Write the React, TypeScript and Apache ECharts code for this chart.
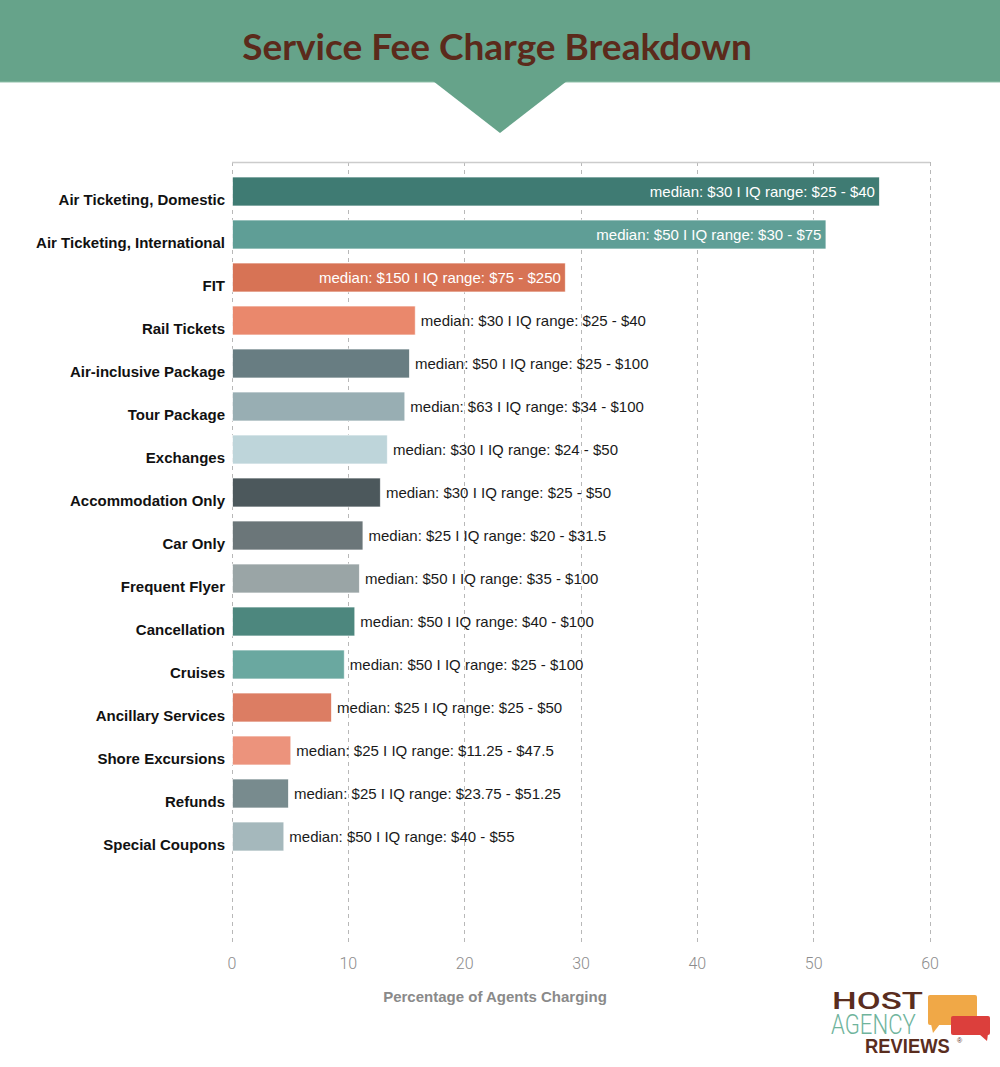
import React, { useEffect, useRef } from "react";
import * as echarts from "echarts";

const categories = [
  "Air Ticketing, Domestic",
  "Air Ticketing, International",
  "FIT",
  "Rail Tickets",
  "Air-inclusive Package",
  "Tour Package",
  "Exchanges",
  "Accommodation Only",
  "Car Only",
  "Frequent Flyer",
  "Cancellation",
  "Cruises",
  "Ancillary Services",
  "Shore Excursions",
  "Refunds",
  "Special Coupons",
];

const percentCharging = [55.7, 51.1, 28.7, 15.8, 15.3, 14.9, 13.4, 12.8, 11.3, 11.0, 10.6, 9.7, 8.6, 5.1, 4.9, 4.5];

const medians = ["$30", "$50", "$150", "$30", "$50", "$63", "$30", "$30", "$25", "$50", "$50", "$50", "$25", "$25", "$25", "$50"];
const iqLow = ["$25", "$30", "$75", "$25", "$25", "$34", "$24", "$25", "$20", "$35", "$40", "$25", "$25", "$11.25", "$23.75", "$40"];
const iqHigh = ["$40", "$75", "$250", "$40", "$100", "$100", "$50", "$50", "$31.5", "$100", "$100", "$100", "$50", "$47.5", "$51.25", "$55"];

const barColors = [
  "#3f7b73", "#5f9e96", "#d77355", "#ea886c", "#687d82", "#98aeb3", "#bed5da", "#4c585c",
  "#6b7679", "#9aa5a6", "#4d877e", "#6aa8a0", "#dc7d63", "#ec937c", "#788b8e", "#a5b8bc",
];

const insideCount = 3;
const xTicks = { min: 0, max: 60, interval: 10 };

export default function App() {
  const ref = useRef<HTMLDivElement>(null);

  useEffect(() => {
    if (!ref.current) return;
    const chart = echarts.init(ref.current, null, { renderer: "svg" });
    const data = percentCharging.map((v, i) => {
      const inside = i < insideCount;
      return {
        value: v,
        itemStyle: { color: barColors[i] },
        label: {
          show: true,
          position: inside ? "insideRight" : "right",
          distance: 5,
          color: inside ? "#ffffff" : "#1a1a1a",
          fontSize: 15,
          fontFamily: "Liberation Sans, Arial, sans-serif",
          formatter: `median: ${medians[i]} I IQ range: ${iqLow[i]} - ${iqHigh[i]}`,
        },
      };
    });

    chart.setOption({
      animation: false,
      backgroundColor: "#ffffff",
      grid: [
        { left: 232, right: 70, top: 162, bottom: 122 },
        { left: 232, right: 70, top: 170, bottom: 209 },
      ],
      xAxis: [
        {
          type: "value",
          gridIndex: 0,
          min: xTicks.min,
          max: xTicks.max,
          interval: xTicks.interval,
          axisLine: { show: false },
          axisTick: { show: false },
          splitLine: { show: true, lineStyle: { type: [4, 4], color: "#b8b8b8", width: 1 } },
          axisLabel: {
            color: "#8c8c8c",
            fontSize: 16,
            fontFamily: "Roboto, Liberation Sans, sans-serif",
            fontWeight: 300,
            margin: 10,
          },
        },
        {
          type: "value",
          gridIndex: 1,
          min: xTicks.min,
          max: xTicks.max,
          interval: xTicks.interval,
          show: false,
          splitLine: { show: false },
        },
      ],
      yAxis: [
        {
          type: "value",
          gridIndex: 0,
          show: false,
          splitLine: { show: false },
        },
        {
          type: "category",
          gridIndex: 1,
          inverse: true,
          data: categories,
          axisLine: { show: false },
          axisTick: { show: false },
          axisLabel: {
            color: "#111111",
            fontSize: 15,
            fontWeight: "bold",
            fontFamily: "Liberation Sans, Arial, sans-serif",
            margin: 7,
            verticalAlign: "top",
            lineHeight: 15,
          },
        },
      ],
      series: [
        {
          type: "bar",
          xAxisIndex: 1,
          yAxisIndex: 1,
          barWidth: 30,
          itemStyle: { borderColor: "rgba(255,255,255,0.7)", borderWidth: 1 },
          data,
        },
      ],
      graphic: [
        { type: "rect", shape: { x: 0, y: 0, width: 1000, height: 82 }, style: { fill: "#66a38a" }, z: 10 },
        { type: "line", shape: { x1: 0, y1: 82, x2: 1000, y2: 82 }, style: { stroke: "#8fbfa9", lineWidth: 1 }, z: 11 },
        { type: "polygon", shape: { points: [[433, 81], [567, 81], [500, 133]] }, style: { fill: "#66a38a" }, z: 12 },
        {
          type: "text",
          x: 497,
          y: 45,
          z: 13,
          style: {
            text: "Service Fee Charge Breakdown",
            fill: "#5b2a1b",
            font: "bold 37px Lato, 'Open Sans', sans-serif",
            align: "center",
            verticalAlign: "middle",
          },
        },
        { type: "line", shape: { x1: 232, y1: 162.5, x2: 930, y2: 162.5 }, style: { stroke: "#cccccc", lineWidth: 1.5 }, z: 5 },
        {
          type: "text",
          x: 495,
          y: 996,
          style: {
            text: "Percentage of Agents Charging",
            fill: "#8a8a8a",
            font: "bold 15px 'Liberation Sans', Arial, sans-serif",
            align: "center",
            verticalAlign: "middle",
          },
        },
        // logo
        { type: "rect", shape: { x: 928, y: 995, width: 49, height: 30, r: 2 }, style: { fill: "#f0a847" } },
        { type: "polygon", shape: { points: [[931, 1024], [940, 1024], [933, 1033]] }, style: { fill: "#f0a847" } },
        { type: "rect", shape: { x: 951, y: 1016, width: 39, height: 19, r: 2 }, style: { fill: "#dc3f3c" } },
        { type: "polygon", shape: { points: [[979, 1034], [988, 1034], [987, 1041]] }, style: { fill: "#dc3f3c" } },
        {
          type: "text",
          x: 832,
          y: 1001,
          scaleX: 1.45,
          style: {
            text: "HOST",
            fill: "#5a2d1e",
            font: "500 24px Roboto, sans-serif",
            align: "left",
            verticalAlign: "middle",
          },
        },
        {
          type: "text",
          x: 831,
          y: 1025,
          scaleX: 0.82,
          style: {
            text: "AGENCY",
            fill: "#6fb49c",
            font: "300 27px Roboto, sans-serif",
            align: "left",
            verticalAlign: "middle",
          },
        },
        {
          type: "text",
          x: 865,
          y: 1046,
          scaleX: 0.92,
          style: {
            text: "REVIEWS",
            fill: "#5a2d1e",
            font: "bold 20px 'Liberation Sans', Arial, sans-serif",
            align: "left",
            verticalAlign: "middle",
          },
        },
        {
          type: "text",
          x: 957,
          y: 1040,
          style: { text: "®", fill: "#5a2d1e", font: "7px sans-serif", align: "left", verticalAlign: "middle" },
        },
      ],
    });

    return () => chart.dispose();
  }, []);

  return (
    <div
      ref={ref}
      style={{ position: "fixed", left: 0, top: 0, width: 1000, height: 1067, background: "#ffffff" }}
    />
  );
}
